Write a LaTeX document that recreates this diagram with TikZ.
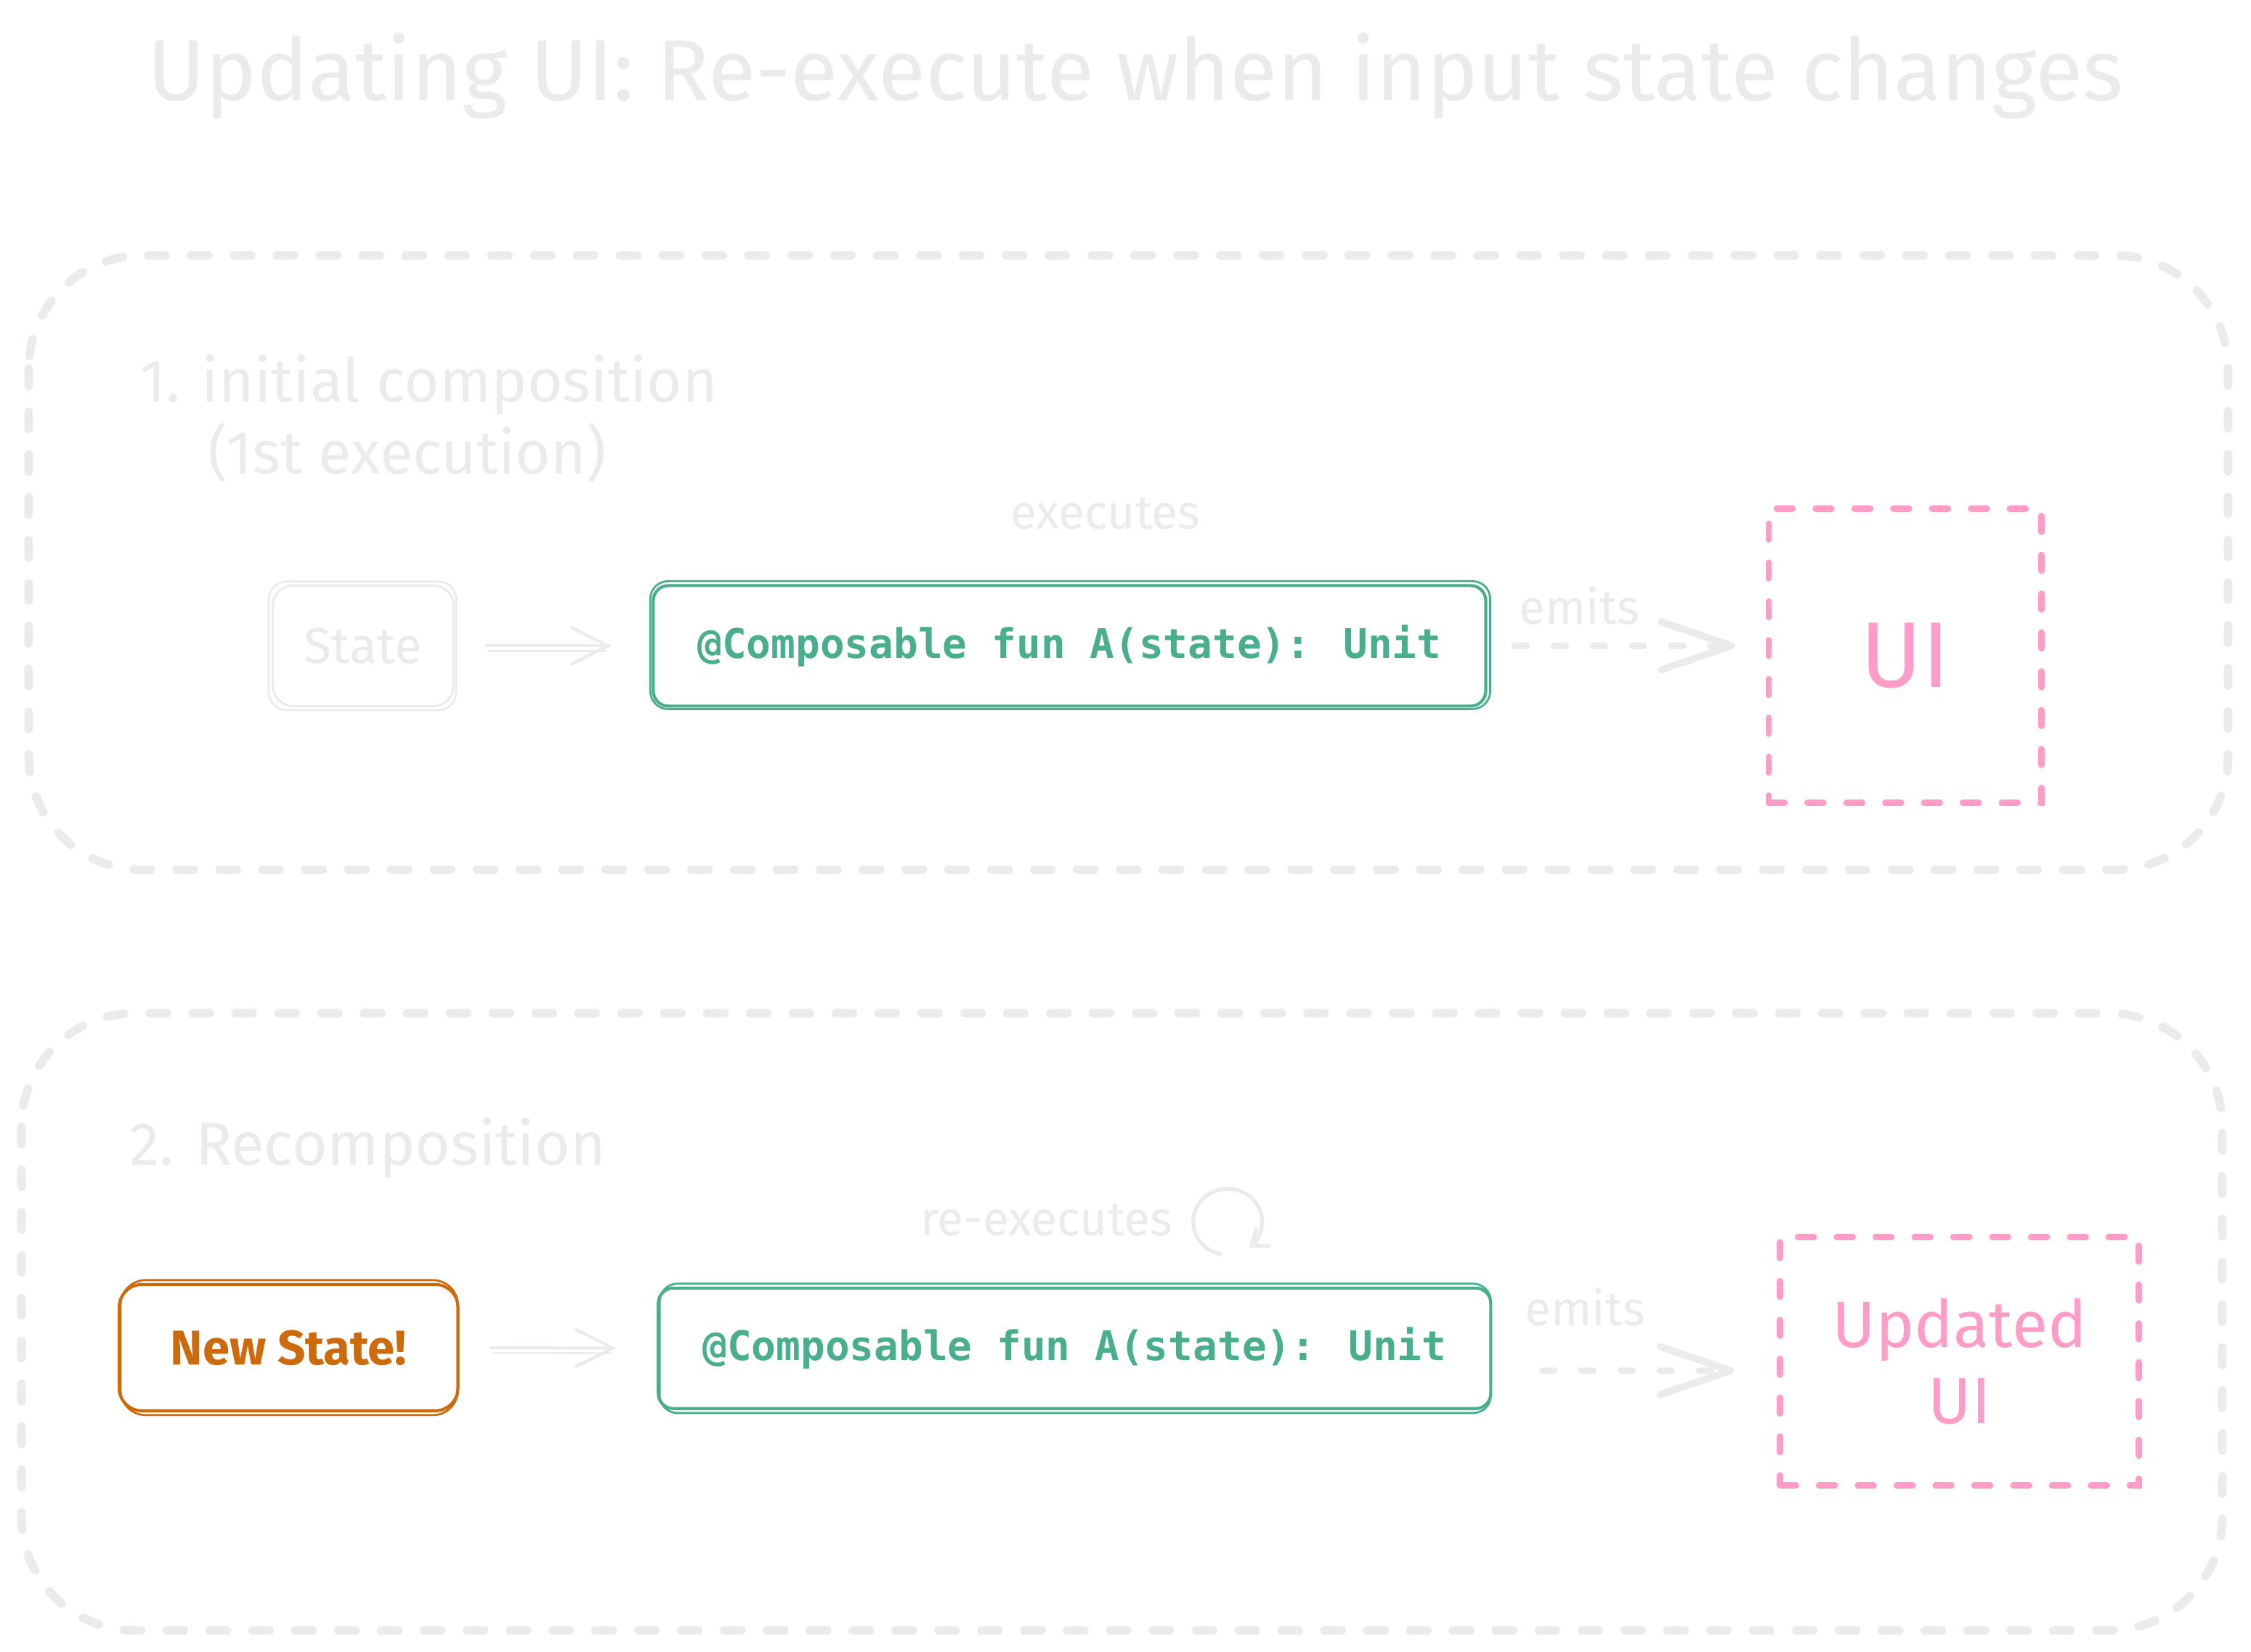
\documentclass[tikz,border=0pt]{standalone}
\usepackage{fontspec}
\setmainfont{Fira Sans}
\newfontfamily\codefont{DejaVu Sans Mono}
\usetikzlibrary{arrows.meta}
\definecolor{lgrey}{RGB}{235,235,235}
\definecolor{cgreen}{RGB}{72,174,140}
\definecolor{corange}{RGB}{204,106,12}
\definecolor{cpink}{RGB}{255,156,200}
\begin{document}
\begin{tikzpicture}[x=0.02cm,y=-0.02cm,
  frame/.style={draw=lgrey, line width=3.4pt, dash pattern=on 6.8pt off 10.2pt, line cap=round, rounded corners=45pt},
  greytxt/.style={inner sep=0pt, text=lgrey},
  statebox/.style={draw=lgrey, line width=0.9pt, rounded corners=8pt, minimum width=2.52cm, minimum height=1.68cm, inner sep=0pt, text=lgrey, font=\fontsize{20}{24}\selectfont},
  codebox/.style={draw=cgreen, line width=1.2pt, rounded corners=6pt, minimum width=11.6cm, minimum height=1.68cm, inner sep=0pt, text=cgreen, font=\codefont\bfseries\fontsize{16.15}{19}\selectfont},
  newbox/.style={draw=corange, line width=1.2pt, rounded corners=9pt, minimum width=4.72cm, minimum height=1.76cm, inner sep=0pt, text=corange, font=\bfseries\fontsize{19.3}{22}\selectfont},
  uibox/.style={draw=cpink, line width=2.5pt, dash pattern=on 6.3pt off 9.1pt, line cap=round, inner sep=0pt, text=cpink},
  secondstroke/.style={line width=0.8pt, rounded corners=7pt},
  plainarrow/.style={draw=lgrey, line width=1.2pt, shorten <=12pt, shorten >=16pt, -{Straight Barb[length=15pt,width=15pt]}},
  emitarrow/.style={draw=lgrey, line width=2.8pt, dash pattern=on 4.5pt off 11pt, line cap=round, -{Straight Barb[length=28pt,width=19pt,round]}}
]
\useasboundingbox (0,0) rectangle (1568,1151);
\fill[white] (0,0) rectangle (1568,1151);

% title
\node[greytxt, anchor=base, font=\fontsize{34.4}{40}\selectfont] (title) at (791,70) {Updating UI: Re-execute when input state changes};

% frames
\draw[frame] (20,178) rectangle (1552,606);
\draw[frame] (15,706) rectangle (1548,1136);

% ---------- section 1
\node[greytxt, anchor=north west, align=left, font=\fontsize{24}{28.5}\selectfont] (lab1) at (97,247) {1. initial composition\\\hspace*{27pt}(1st execution)};
\node[greytxt, font=\fontsize{19}{23}\selectfont] (exec) at (770,358) {executes};

\node[statebox] (st) at (253,450) {State};
\draw[secondstroke, draw=lgrey] ([shift={(-2,-2)}]st.north west) rectangle ([shift={(1,2)}]st.south east);

\node[codebox] (c1) at (745,450) {@Composable fun A(state): Unit};
\draw[secondstroke, draw=cgreen] ([shift={(-1,-2)}]c1.north west) rectangle ([shift={(2,1)}]c1.south east);

\node[uibox, minimum width=3.8cm, minimum height=4.1cm, font=\fontsize{37}{40}\selectfont] (ui1) at (1327,457) {UI};

\draw[plainarrow] (st.east) -- (c1.west);
\draw[draw=lgrey, line width=0.7pt, shorten <=13pt, shorten >=18pt] ([yshift=-2pt]st.east) -- ([yshift=-2pt]c1.west);

\node[greytxt, font=\fontsize{19}{23}\selectfont] (em1) at (1100,422) {emits};
\draw[emitarrow, shorten <=11pt, shorten >=12pt] (c1.east) -- (ui1.west |- c1.east);

% ---------- section 2
\node[greytxt, anchor=west, font=\fontsize{24}{28.5}\selectfont] (lab2) at (90,800) {2. Recomposition};
\node[greytxt, font=\fontsize{19}{23}\selectfont] (reexec) at (729,850) {re-executes};
\draw[draw=lgrey, line width=1.5pt, -{Straight Barb[length=6pt,width=9pt]}] (851,874) arc[start angle=100, end angle=412, x radius=24, y radius=23];

\node[newbox] (ns) at (201,939) {New State!};
\draw[secondstroke, draw=corange, rounded corners=10pt] ([shift={(2,-2)}]ns.north west) rectangle ([shift={(-1,2)}]ns.south east);

\node[codebox] (c2) at (748.5,939.5) {@Composable fun A(state): Unit};
\draw[secondstroke, draw=cgreen] ([shift={(2,-2)}]c2.north west) rectangle ([shift={(-1,2)}]c2.south east);

\node[uibox, minimum width=5cm, minimum height=3.46cm, align=center, font=\fontsize{26}{30}\selectfont] (ui2) at (1365,948.5) {Updated\\UI};

\draw[plainarrow] (ns.east) -- (c2.west);
\draw[draw=lgrey, line width=0.7pt, shorten <=13pt, shorten >=18pt] ([yshift=-2pt]ns.east) -- ([yshift=-2pt]c2.west);

\coordinate (e2y) at (0,955);
\node[greytxt, font=\fontsize{19}{23}\selectfont] (em2) at (1104,911) {emits};
\draw[emitarrow, shorten <=20pt, shorten >=17pt] (c2.east |- e2y) -- (ui2.west |- e2y);
\end{tikzpicture}
\end{document}
